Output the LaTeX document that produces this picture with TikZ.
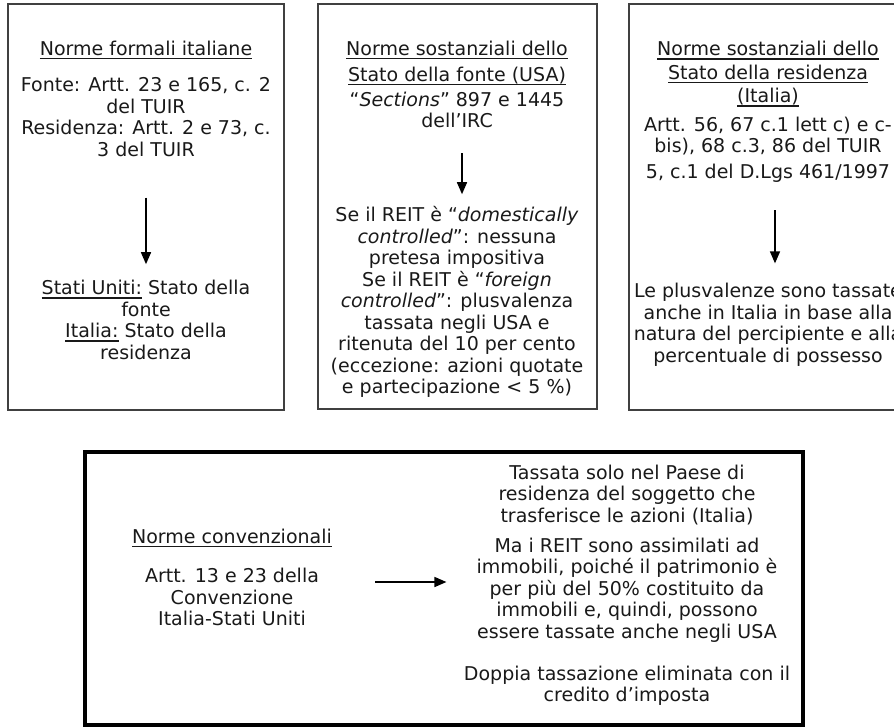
\documentclass[tikz,border=0pt]{standalone}
\usepackage{fontspec}
\setmainfont{DejaVu Sans}
\usetikzlibrary{arrows.meta}
\newcommand\undl[1]{\setbox0\hbox{#1}\rlap{\rule[-0.2em]{\wd0}{0.06em}}\box0\relax}
\tikzset{
  panel/.style   = {draw=black!75, line width=1.4pt},
  bigpanel/.style = {draw=black, line width=4pt},
  body/.style    = {align=center, inner sep=0pt, text=black!90,
                    font=\fontsize{19}{21.5}\selectfont},
  heading/.style = {body},
  flow/.style    = {-{Triangle[width=10pt,length=12pt]}, line width=1.5pt}
}
\begin{document}
\begin{tikzpicture}[x=1pt,y=-1pt]
  \useasboundingbox (0,0) rectangle (894,727);
  \clip (0,0) rectangle (894,727);

  % three upper panels
  \draw[panel] (8,4) rectangle (284,410);
  \draw[panel] (318,4) rectangle (597,409);
  \draw[panel] (629,4) rectangle (908,410);

  % left panel
  \node[heading] (t1) at (146,50) {\undl{Norme formali italiane}};
  \node[body] (s1) at (146,117) {Fonte: Artt. 23 e 165, c. 2\\del TUIR\\
    Residenza: Artt. 2 e 73, c.\\3 del TUIR};
  \node[body] (r1) at (146,320) {\undl{Stati Uniti:} Stato della\\fonte\\
    \undl{Italia:} Stato della\\residenza};
  \draw[flow, shorten <=41pt, shorten >=16pt] (s1.south) -- (r1.north);

  % middle panel
  \node[heading] (t2) at (457,63) {\undl{Norme sostanziali dello}\\[4pt]
    \undl{Stato della fonte (USA)}};
  \node[body] (s2) at (457,110) {“\textit{Sections}” 897 e 1445\\dell’IRC};
  \node[body] (r2) at (457,302) {Se il REIT è “\textit{domestically}\\
    \textit{controlled}”: nessuna\\pretesa impositiva\\
    Se il REIT è “\textit{foreign}\\\textit{controlled}”: plusvalenza\\
    tassata negli USA e\\ritenuta del 10 per cento\\
    (eccezione: azioni quotate\\e partecipazione < 5 \%)};
  \draw[flow, shorten <=25pt, shorten >=12pt] ([xshift=5pt]s2.south) -- ([xshift=5pt]s2.south |- r2.north);

  % right panel
  \node[heading] (t3) at (768,74) {\undl{Norme sostanziali dello}\\[2pt]
    \undl{Stato della residenza}\\[2pt]\undl{(Italia)}};
  \node[body] (s3) at (768,136) {Artt. 56, 67 c.1 lett c) e c-\\bis), 68 c.3, 86 del TUIR};
  \node[body] (u3) at (768,173) {5, c.1 del D.Lgs 461/1997};
  \node[body] (r3) at (768,325) {Le plusvalenze sono tassate\\anche in Italia in base alla\\
    natura del percipiente e alla\\percentuale di possesso};
  \draw[flow, shorten <=28pt, shorten >=20pt] ([xshift=7pt]u3.south) -- ([xshift=7pt]u3.south |- r3.north);

  % lower panel
  \draw[bigpanel] (85,452) rectangle (803,725);
  \node[heading] (t4) at (232,538) {\undl{Norme convenzionali}};
  \node[body] (s4) at (232,597) {Artt. 13 e 23 della\\Convenzione\\Italia-Stati Uniti};
  \node[body] (r4a) at (627,495) {Tassata solo nel Paese di\\residenza del soggetto che\\
    trasferisce le azioni (Italia)};
  \node[body] (r4b) at (627,590) {Ma i REIT sono assimilati ad\\immobili, poiché il patrimonio è\\
    per più del 50\% costituito da\\immobili e, quindi, possono\\essere tassate anche negli USA};
  \node[body] (r4c) at (627,686) {Doppia tassazione eliminata con il\\credito d’imposta};
  \draw[flow, shorten <=56pt, shorten >=30pt] ([yshift=15pt]s4.east) -- ([yshift=15pt]s4.east -| r4b.west);
\end{tikzpicture}
\end{document}
